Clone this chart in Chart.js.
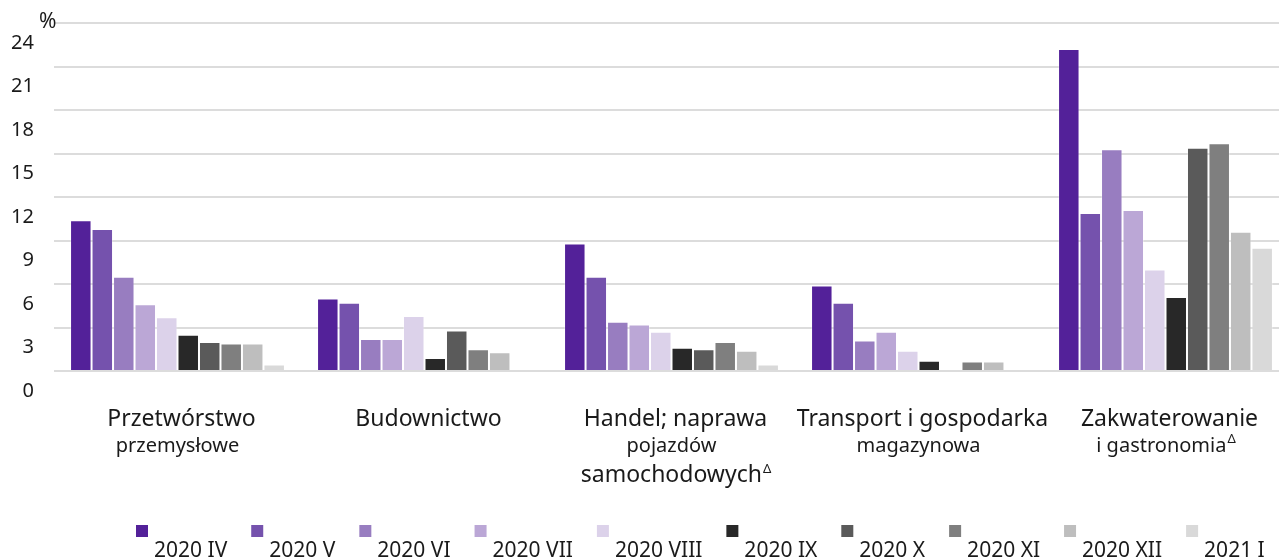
<!DOCTYPE html>
<html>
<head>
<meta charset="utf-8">
<script src="https://cdn.jsdelivr.net/npm/chart.js@4.4.1/dist/chart.umd.min.js"></script>
<style>
    html, body { margin: 0; padding: 0; background: #fff; overflow: hidden; }
    #wrap { width: 1279px; height: 559px; overflow: hidden; }
</style>
</head>
<body>
<div id="wrap"><canvas id="myChart" width="1289" height="559"></canvas></div>
<script>
// categories (one array of lines per group) and footnote marks
const categories = [
    ['Przetwórstwo', 'przemysłowe'],
    ['Budownictwo'],
    ['Handel; naprawa', 'pojazdów', 'samochodowych'],
    ['Transport i gospodarka', 'magazynowa'],
    ['Zakwaterowanie', 'i gastronomia']
];
const categoryNotes = ['', '', 'Δ', '', 'Δ'];

const seriesLabels = ['2020 IV', '2020 V', '2020 VI', '2020 VII', '2020 VIII',
    '2020 IX', '2020 X', '2020 XI', '2020 XII', '2021 I'];

// % values
const apr2020 = [10.4, 5.0, 8.8, 5.9, 22.2];
const may2020 = [9.8, 4.7, 6.5, 4.7, 10.9];
const jun2020 = [6.5, 2.2, 3.4, 2.1, 15.3];
const jul2020 = [4.6, 2.2, 3.2, 2.7, 11.1];
const aug2020 = [3.7, 3.8, 2.7, 1.4, 7.0];
const sep2020 = [2.5, 0.9, 1.6, 0.7, 5.1];
const oct2020 = [2.0, 2.8, 1.5, null, 15.4];
const nov2020 = [1.9, 1.5, 2.0, 0.65, 15.7];
const dec2020 = [1.9, 1.3, 1.4, 0.65, 9.6];
const jan2021 = [0.45, null, 0.45, null, 8.5];

const yTicks = [0, 3, 6, 9, 12, 15, 18, 21, 24];

const seriesValues = [apr2020, may2020, jun2020, jul2020, aug2020, sep2020, oct2020, nov2020, dec2020, jan2021];
const colors = ['#532199', '#7552ad', '#987dc0', '#bba7d6', '#dcd2ea',
    '#282828', '#5a5a5a', '#7f7f7f', '#bebebe', '#d9d9d9'];

const FONT = '"Noto Sans", sans-serif';
const TEXT = '#1a1a1a';

const extraText = {
    id: 'extraText',
    afterDraw(chart) {
        const ctx = chart.ctx;
        const x = chart.scales.x;
        ctx.save();
        ctx.fillStyle = TEXT;

        // unit
        ctx.font = '21px ' + FONT;
        ctx.textAlign = 'left';
        ctx.textBaseline = 'alphabetic';
        ctx.fillText('%', 39, 28);

        // category labels
        const bigLines = [[true, false], [true], [true, false, true], [true, false], [true, false]];
        const baselines = [426, 452, 482];
        categories.forEach((lines, i) => {
            const cx = x.getPixelForValue(i);
            lines.forEach((line, j) => {
                const big = bigLines[i][j];
                const font = (big ? '23px ' : '20px ') + FONT;
                const note = j === lines.length - 1 ? categoryNotes[i] : '';
                ctx.font = font;
                const w = ctx.measureText(line).width;
                ctx.font = '13px ' + FONT;
                const nw = note ? ctx.measureText(note).width : 0;
                const left = cx - (w + nw) / 2 + (big ? 4 : 0);
                ctx.font = font;
                ctx.fillText(line, left, baselines[j]);
                if (note) {
                    ctx.font = '13px ' + FONT;
                    ctx.fillText(note, left + w + 1, baselines[j] - 9);
                }
            });
        });

        // legend: box up-left of its text
        let lx = 136;
        ctx.font = '21px ' + FONT;
        chart.data.datasets.forEach((ds) => {
            ctx.fillStyle = ds.backgroundColor;
            ctx.fillRect(lx, 525, 12, 12);
            ctx.fillStyle = TEXT;
            ctx.fillText(ds.label, lx + 18, 557);
            lx += 18 + ctx.measureText(ds.label).width + 24;
        });
        ctx.restore();
    }
};

const chartCtx = document.getElementById('myChart').getContext('2d');
new Chart(chartCtx, {
    type: 'bar',
    data: {
        labels: categories.map(c => c.join(' ')),
        datasets: seriesLabels.map((label, i) => ({
            label: label,
            data: seriesValues[i],
            backgroundColor: colors[i],
            borderColor: 'rgba(255,255,255,0.3)',
            borderWidth: 1,
            barPercentage: 1.0,
            categoryPercentage: 0.87
        }))
    },
    options: {
        responsive: false,
        animation: false,
        devicePixelRatio: 1,
        layout: { padding: { top: 23, bottom: 188, left: 0, right: 0 } },
        plugins: {
            legend: { display: false },
            tooltip: { enabled: false }
        },
        scales: {
            x: { display: false },
            y: {
                min: 0,
                max: 24,
                afterBuildTicks: (s) => { s.ticks = yTicks.map(v => ({ value: v })); },
                afterFit: (s) => { s.width = 54; s.paddingTop = 0; s.paddingBottom = 0; },
                border: { display: false },
                grid: { color: '#dcdcdc', lineWidth: 2, drawTicks: false },
                ticks: {
                    padding: 20,
                    labelOffset: 20,
                    color: TEXT,
                    font: { family: FONT, size: 20 }
                }
            }
        }
    },
    plugins: [extraText]
});
</script>
</body>
</html>
